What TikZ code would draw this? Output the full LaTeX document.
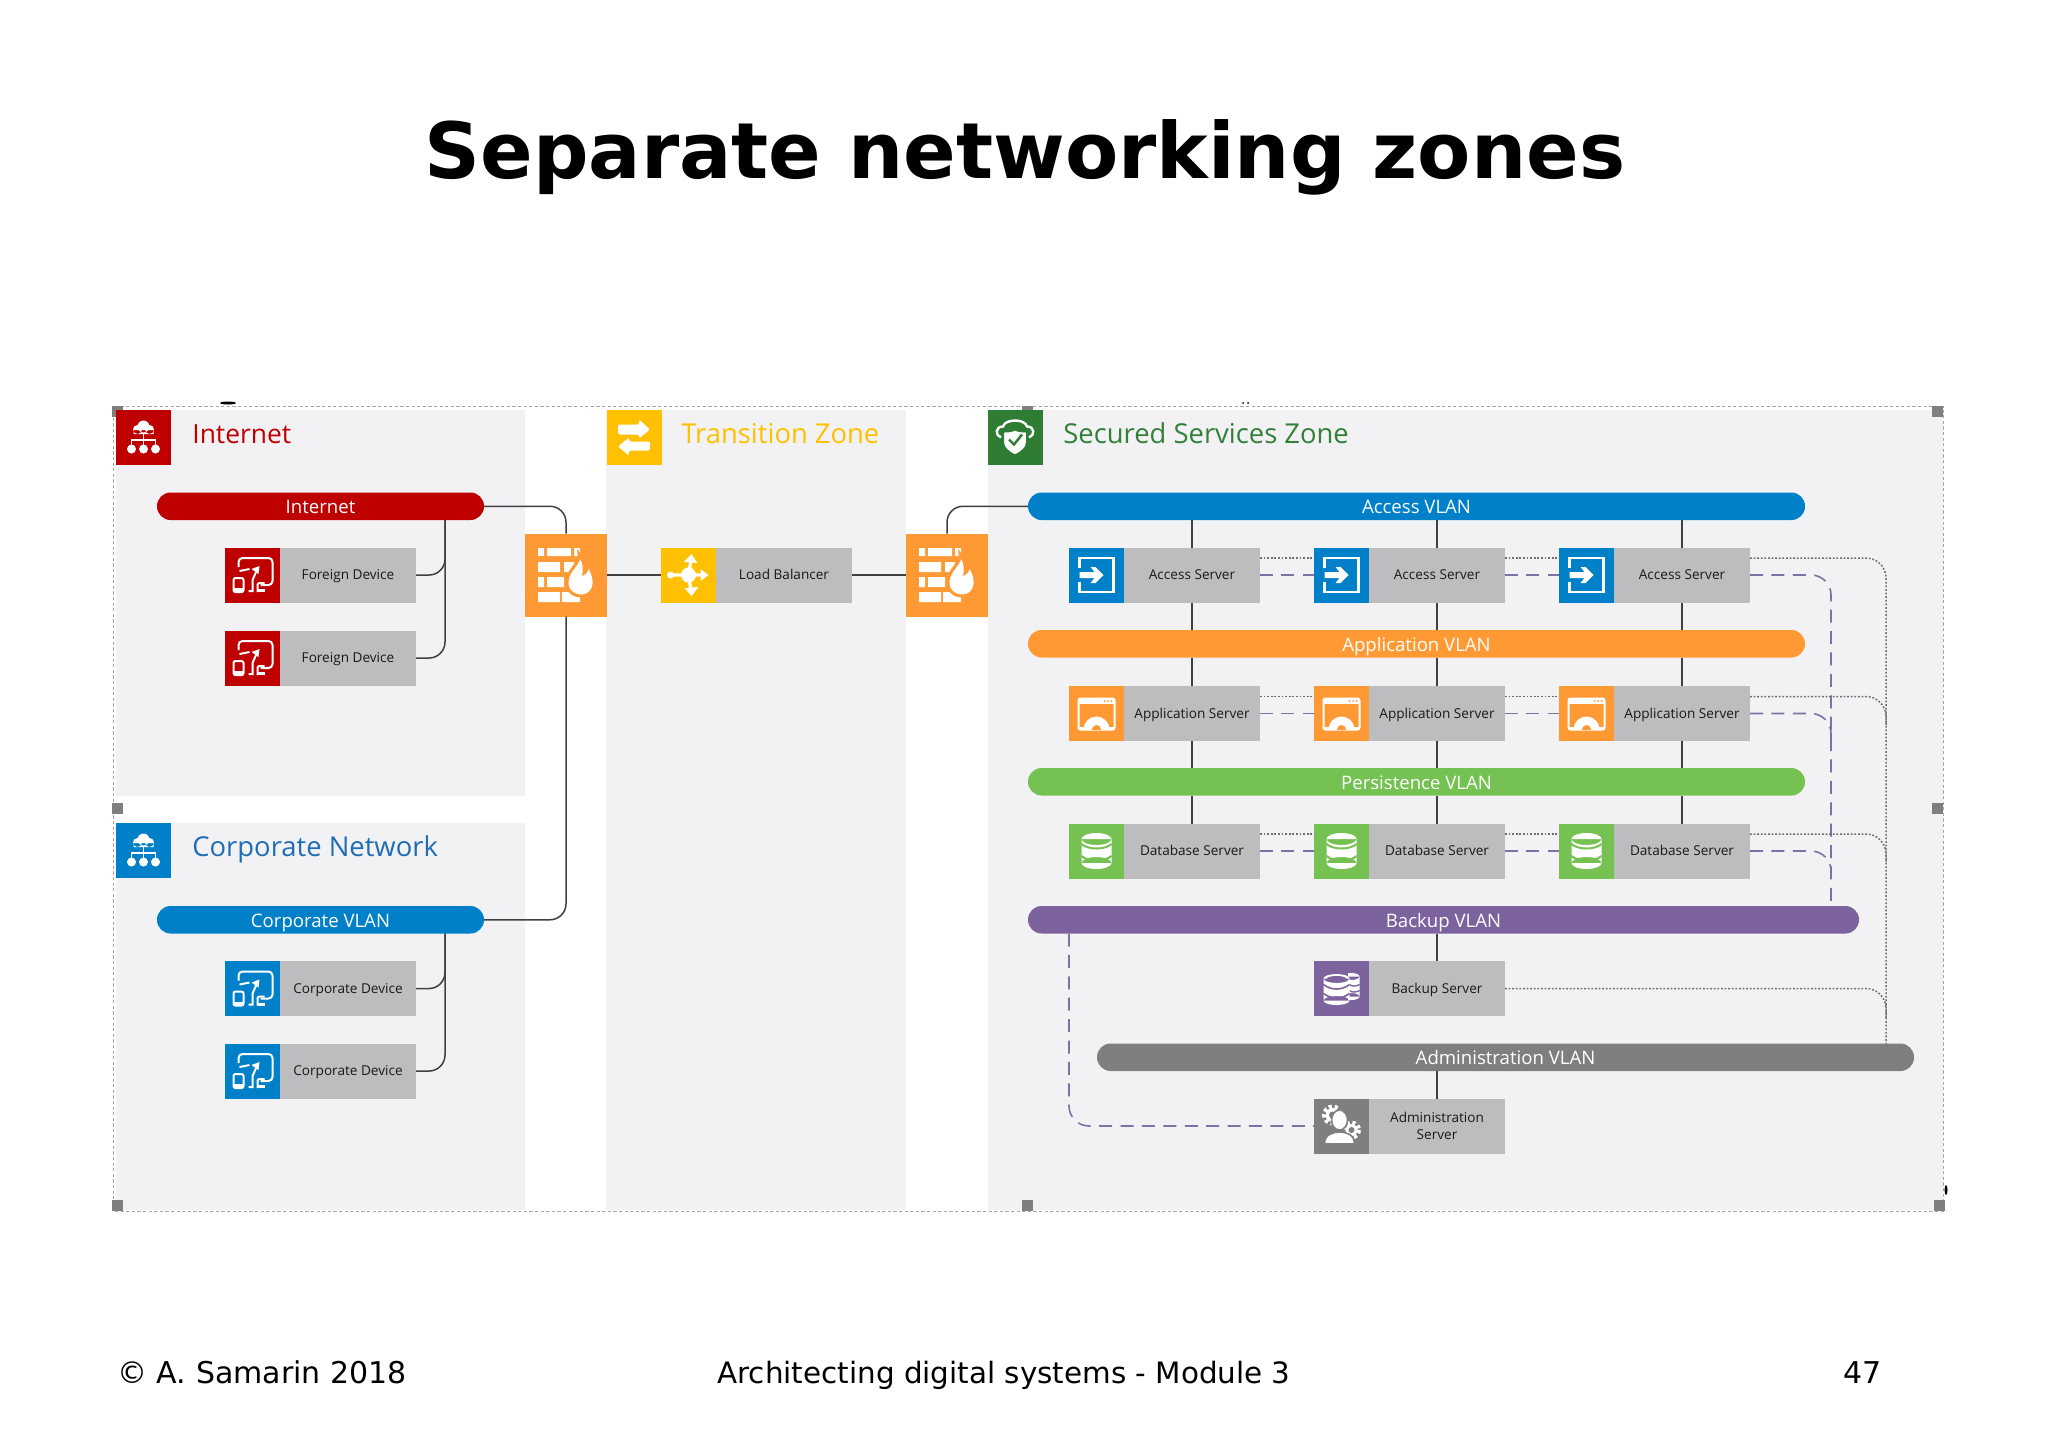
\documentclass[tikz,border=0pt]{standalone}
\usepackage{fontspec}
\setmainfont{Open Sans}
\newfontfamily\slidefont{DejaVu Sans}
\definecolor{cRed}{HTML}{BF0000}
\definecolor{cBlue}{HTML}{0080C8}
\definecolor{cYellow}{HTML}{FFC000}
\definecolor{cDkGreen}{HTML}{2E7D32}
\definecolor{cOrange}{HTML}{FF9933}
\definecolor{cLime}{HTML}{75C152}
\definecolor{cPurple}{HTML}{7D639E}
\definecolor{cGrey}{HTML}{7F7F7F}
\definecolor{cBox}{HTML}{BDBDBF}
\definecolor{cPanel}{HTML}{F2F2F4}
\definecolor{cDash}{HTML}{7D72A3}
\definecolor{cDot}{HTML}{6E6E6E}
\definecolor{cLine}{HTML}{404040}
\definecolor{cCorp}{HTML}{1F6DB5}
\definecolor{cSec}{HTML}{358039}
\tikzset{
  panel/.style={rectangle,fill=cPanel,inner sep=0pt,outer sep=0pt},
  iconbox/.style={rectangle,inner sep=0pt,outer sep=0pt,minimum width=27.5pt,minimum height=27.5pt},
  firebox/.style={rectangle,fill=cOrange,inner sep=0pt,outer sep=0pt,minimum width=41pt,minimum height=41.5pt},
  graybox/.style={rectangle,fill=cBox,inner sep=0pt,outer sep=0pt,minimum width=68pt,minimum height=27.5pt,
     font=\fontsize{6.8}{8.5}\selectfont,text=black!90,align=center,text height=4.9pt,text depth=0pt},
  pill/.style={rectangle,rounded corners=6.8pt,inner sep=0pt,outer sep=0pt,minimum height=13.75pt,text=white,
     font=\fontsize{9.3}{10}\selectfont,text height=7.6pt,text depth=0pt},
  header/.style={anchor=base west,inner sep=0pt,font=\fontsize{13.7}{15}\selectfont},
  slidetext/.style={inner sep=0pt,font=\slidefont\fontsize{15}{16}\selectfont,anchor=base west},
  conn/.style={draw=cLine,line width=0.75pt,rounded corners=8pt},
  dashconn/.style={draw=cDash,line width=0.8pt,dash pattern=on 6.5pt off 4.2pt,rounded corners=10pt},
  dotconn/.style={draw=cDot,line width=0.75pt,dash pattern=on 0.9pt off 0.9pt,rounded corners=10pt},
  netpic/.pic={
    \fill[white] (0,-11) circle (6) (-6,-8) circle (4.5) (6,-8) circle (4.5) (-10,-7.5) rectangle (10,-3.5);
    \draw[white,line width=.65pt] (0,-4)--(0,8) (-12,8)--(-12,2.5)--(12,2.5)--(12,8);
    \fill[white] (-12,11.5) circle (4.5) (0,11.5) circle (4.5) (12,11.5) circle (4.5);
  },
  devpic/.pic={
    \draw[white,line width=1pt,rounded corners=2pt] (-14,-8)--(-14,-17)--(20,-17)--(20,10)--(8,10);
    \draw[white,line width=1pt] (-13,-4)--(-3,-6);
    \draw[white,line width=1pt,rounded corners=1pt] (-19,3) rectangle (-9,17);
    \fill[white] (-19,13) rectangle (-9,17);
    \draw[white,line width=1pt] (-4,16)--(0,16)--(0,5)--(4,-4);
    \fill[white] (7,-9)--(-1,-6)--(6,-1)--cycle;
    \draw[white,line width=1pt,rounded corners=1pt] (5,17)--(5,8)--(12,8);
    \fill[white] (5,14) rectangle (12,17);
  },
  firepic/.pic={
    \fill[white] (-28,-27) rectangle (-22,-19) (-19,-27) rectangle (5,-19) (8,-27) rectangle (14,-19);
    \fill[white] (-28,-13) rectangle (-6,-3) (-2,-13) rectangle (8,-3);
    \fill[white] (-28,2) rectangle (-22,12) (-19,2) rectangle (-2,12);
    \fill[white] (-28,17) rectangle (-6,27) (-4,17) rectangle (14,27);
    \path[fill=white,draw=cOrange,line width=1.5pt] (13,-21) .. controls (15,-12) and (2,-6) .. (1,6)
      .. controls (0,15) and (7,21) .. (15,21) .. controls (24,21) and (29,14) .. (28,5)
      .. controls (27,-3) and (24,-7) .. (21,-12) .. controls (22,-6) and (20,-3) .. (18,-2)
      .. controls (19,-10) and (17,-16) .. (13,-21) -- cycle;
  },
  swappic/.pic={
    \fill[white,rounded corners=1pt] (-16,-13)--(5,-13)--(5,-18)--(16,-8)--(5,1)--(5,-3)--(-16,-3)--cycle;
    \fill[white,rounded corners=1pt] (16,4)--(-5,4)--(-5,0)--(-16,9)--(-5,18)--(-5,13)--(16,13)--cycle;
  },
  lbpic/.pic={
    \draw[white,line width=1.6pt] (-17,0)--(17,0) (0,0)--(3,-17) (0,0)--(3,18);
    \fill[white] (0,0) circle (7.5) (-18,0) circle (3.5);
    \fill[white] (20,0)--(12,-6)--(12,6)--cycle;
    \fill[white] (3,-21)--(-5,-13)--(9,-12)--cycle;
    \fill[white] (3,21)--(-4,13)--(10,12)--cycle;
  },
  shieldpic/.pic={
    \draw[white,line width=1.2pt] (-14,0) .. controls (-20,-2) and (-20,-11) .. (-12,-11)
       .. controls (-10,-19) and (10,-19) .. (12,-11) .. controls (20,-11) and (20,-2) .. (14,0);
    \path[fill=white,draw=cDkGreen,line width=1pt] (0,-8) .. controls (4,-6) and (8,-6) .. (12,-6)
       -- (12,5) .. controls (12,11) and (6,15) .. (0,18) .. controls (-6,15) and (-12,11) .. (-12,5)
       -- (-12,-6) .. controls (-8,-6) and (-4,-6) .. (0,-8) -- cycle;
    \draw[cDkGreen,line width=1.2pt] (-6,2)--(-1,7)--(7,-3);
  },
  accesspic/.pic={
    \draw[white,line width=1.4pt] (-17,-7)--(-17,-17)--(17,-17)--(17,17)--(-17,17)--(-17,7);
    \fill[white] (-17,-3)--(-2,-3)--(-6,-8)--(-1,-8)--(7,0)--(-1,8)--(-6,8)--(-2,3)--(-17,3)--cycle;
  },
  apppic/.pic={
    \draw[white,line width=1pt,rounded corners=1pt] (-18,-15) rectangle (18,16);
    \fill[white] (-18,-15) rectangle (18,-10);
    \foreach \d in {8,11.5,15} {\fill[cOrange] (\d,-12.5) circle (1);}
    \begin{scope}
      \clip (-18,-4) rectangle (18,16);
      \fill[white] (0,16) circle (13);
      \foreach \a in {0,30,60,90,120,150,180} {\draw[white,line width=2.4pt] (0,16)--++(\a:17);}
      \fill[cOrange] (0,16) circle (4.5);
    \end{scope}
  },
  dbpic/.pic={
    \fill[white] (0,-12) ellipse (15 and 6) (-15,-12) rectangle (15,12) (0,12) ellipse (15 and 6);
    \draw[cLime,line width=1pt] (-15,-7) .. controls (-8,-1) and (8,-1) .. (15,-7);
    \draw[cLime,line width=1pt] (-15,5) .. controls (-8,11) and (8,11) .. (15,5);
  },
  backpic/.pic={
    \fill[white] (10,-12) ellipse (8 and 3.5) (2,-12) rectangle (18,8) (10,8) ellipse (8 and 3.5);
    \draw[cPurple,line width=.7pt] (8,-4) .. controls (10,-2) and (15,-2) .. (18,-4);
    \draw[cPurple,line width=.7pt] (8,2) .. controls (10,4) and (15,4) .. (18,2);
    \fill[cPurple] (-21,-18) rectangle (6,22);
    \fill[white] (-5,-10) ellipse (13 and 4.5) (-18,-10) rectangle (8,12) (-5,12) ellipse (13 and 4.5);
    \fill[cPurple] (-5,-10) ellipse (9.5 and 2.5);
    \draw[cPurple,line width=.8pt] (-18,-4) .. controls (-10,2) and (0,2) .. (8,-4);
    \draw[cPurple,line width=.8pt] (-18,5) .. controls (-10,11) and (0,11) .. (8,5);
  },
  adminpic/.pic={
    \fill[white] (-9,-11) circle (7);
    \draw[white,line width=2pt,dash pattern=on 1.6pt off 1.4pt] (-9,-11) circle (8.5);
    \fill[cGrey] (-9,-11) circle (3.5);
    \fill[white] (10,4) circle (6);
    \draw[white,line width=2pt,dash pattern=on 1.6pt off 1.4pt] (10,4) circle (7.5);
    \fill[cGrey] (10,4) circle (3);
    \path[fill=white,draw=cGrey,line width=.8pt] (-2,-6) ellipse (8 and 10);
    \path[fill=white,draw=cGrey,line width=.8pt] (-17,18) .. controls (-17,8) and (-8,6) .. (-2,6)
       .. controls (4,6) and (13,8) .. (13,18) -- cycle;
  }
}
\newcommand{\srvbox}[7][]{% extra style, name, left x, top y, colour, pic, text
  \node[iconbox,fill=#5] (#2-i) at ({#3+27.5},{#4+27.5}) {};
  \pic at (#2-i.center) {#6};
  \node[graybox,#1] (#2) at ({#3+123},{#4+27.5}) {#7};
  \coordinate (#2-dl) at (#3,{#4+10.5});
  \coordinate (#2-dr) at ({#3+191},{#4+10.5});
}
\newcommand{\rectnode}[6]{% style, name, x1, y1, x2, y2
  \node[#1,minimum width={(#5-#3)*0.5pt},minimum height={(#6-#4)*0.5pt}] (#2) at ({(#3+#5)/2},{(#4+#6)/2}) {};
}
\newcommand{\pillnode}[7]{% name, colour, x1, y1, x2, y2, text
  \node[pill,fill=#2,minimum width={(#5-#3)*0.5pt}] (#1) at ({(#3+#5)/2},{(#4+#6)/2}) {#7};
}
\begin{document}
\begin{tikzpicture}[x=0.5pt,y=-0.5pt]
\useasboundingbox (0,0) rectangle (2048,1448);
\fill[white] (0,0) rectangle (2048,1448);
% panels
\rectnode{panel}{pInternet}{116}{410}{525}{796}
\rectnode{panel}{pCorp}{116}{823}{525}{1210}
\rectnode{panel}{pTrans}{606}{410}{906}{1210}
\rectnode{panel}{pSec}{988}{410}{1943}{1210}
% frame and handles
\draw[black!35,line width=0.5pt,dash pattern=on 1.6pt off 1.2pt] (113,406.5) rectangle (1943,1211);
\foreach \hx/\hy in {112/406,1022/406,1932/406,112/803,1932/803,112/1200,1022/1200,1934/1200}
  {\fill[cGrey] (\hx,\hy) rectangle ++(11,11);}
\fill[black] (228,403) ellipse (8 and 1.5);
\fill[black] (1243,403) circle (1) (1248,403) circle (1);
\fill[black] (1946,1190) ellipse (1.5 and 5);
% slide text
\node[inner sep=0pt,anchor=base,font=\slidefont\bfseries\fontsize{38.8}{40}\selectfont] (title) at (1025,178) {Separate networking zones};
\node[slidetext] (foot1) at (117,1383) {© A. Samarin 2018};
\node[slidetext,font=\slidefont\fontsize{14.7}{16}\selectfont] (foot2) at (717,1383) {Architecting digital systems - Module 3};
\node[slidetext] (foot3) at (1843,1383) {47};
% headers
\node[iconbox,fill=cRed] (hInternet) at (143.5,437.5) {};
\pic at (hInternet.center) {netpic};
\node[header,text=cRed,font=\fontsize{13.2}{15}\selectfont] (tInternet) at (192,443.5) {Internet};
\node[iconbox,fill=cBlue] (hCorp) at (143.5,850.5) {};
\pic at (hCorp.center) {netpic};
\node[header,text=cCorp] (tCorp) at (192,856.5) {Corporate Network};
\node[iconbox,fill=cYellow] (hTrans) at (634,437.5) {};
\pic at (hTrans.center) {swappic};
\node[header,text=cYellow] (tTrans) at (681,443.5) {Transition Zone};
\node[iconbox,fill=cDkGreen] (hSec) at (1015,437.5) {};
\pic at (hSec.center) {shieldpic};
\node[header,text=cSec] (tSec) at (1063,443.5) {Secured Services Zone};
% pills
\pillnode{ipill}{cRed}{157}{492.5}{484}{520}{Internet}
\pillnode{cpill}{cBlue}{157}{906}{484}{933.5}{Corporate VLAN}
\pillnode{apill}{cBlue}{1028}{492.5}{1805}{520}{Access VLAN}
\pillnode{ppill}{cOrange}{1028}{630}{1805}{657.5}{Application VLAN}
\pillnode{dpill}{cLime}{1028}{768}{1805}{795.5}{Persistence VLAN}
\pillnode{bpill}{cPurple}{1028}{906}{1859}{933.5}{Backup VLAN}
\pillnode{mpill}{cGrey}{1097}{1043.5}{1914}{1071}{Administration VLAN}
% devices
\srvbox{f1}{225}{547.5}{cRed}{devpic}{Foreign Device}
\srvbox{f2}{225}{630.5}{cRed}{devpic}{Foreign Device}
\srvbox{k1}{225}{961}{cBlue}{devpic}{Corporate Device}
\srvbox{k2}{225}{1043.5}{cBlue}{devpic}{Corporate Device}
\srvbox{lb}{661}{547.5}{cYellow}{lbpic}{Load Balancer}
% firewalls
\node[firebox] (fw1) at (566,575) {};
\pic at (fw1.center) {firepic};
\node[firebox] (fw2) at (947,575) {};
\pic at (fw2.center) {firepic};
% servers
\srvbox{a1}{1069}{547.5}{cBlue}{accesspic}{Access Server}
\srvbox{a2}{1314}{547.5}{cBlue}{accesspic}{Access Server}
\srvbox{a3}{1559}{547.5}{cBlue}{accesspic}{Access Server}
\srvbox{s1}{1069}{686}{cOrange}{apppic}{Application Server}
\srvbox{s2}{1314}{686}{cOrange}{apppic}{Application Server}
\srvbox{s3}{1559}{686}{cOrange}{apppic}{Application Server}
\srvbox{d1}{1069}{823.5}{cLime}{dbpic}{Database Server}
\srvbox{d2}{1314}{823.5}{cLime}{dbpic}{Database Server}
\srvbox{d3}{1559}{823.5}{cLime}{dbpic}{Database Server}
\srvbox{bk}{1314}{961}{cPurple}{backpic}{Backup Server}
\srvbox[text height={},text depth={}]{ad}{1314}{1098.5}{cGrey}{adminpic}{Administration\\Server}
% bus coordinates
\coordinate (itrunk) at (445,520);
\coordinate (ctrunk) at (445,933.5);
\coordinate (dashbus) at (1831,906);
\coordinate (dashs3) at (1831,738);
\coordinate (dashd3) at (1831,875);
\coordinate (dotbus) at (1886,1043.5);
\coordinate (dots3) at (1886,725);
\coordinate (dotd3) at (1886,862);
\coordinate (dotbk) at (1886,1018);
\coordinate (leftbus) at (1069,933.5);
% solid connectors
\draw[conn] (ipill.east) -| (fw1.north);
\draw[conn] (fw1.south) |- (cpill.east);
\draw[conn] (fw1.east) -- (lb-i.west);
\draw[conn] (lb.east) -- (fw2.west);
\draw[conn] (apill.west) -| (fw2.north);
\draw[conn] (f1.east) -| (itrunk);
\draw[conn] (f2.east) -| (itrunk);
\draw[conn] (k1.east) -| (ctrunk);
\draw[conn] (k2.east) -| (ctrunk);
\foreach \n in {a1,a2,a3} {
  \draw[conn] (\n.north) -- (\n.north |- apill.south);
  \draw[conn] (\n.south) -- (\n.south |- ppill.north);
}
\foreach \n in {s1,s2,s3} {
  \draw[conn] (\n.north) -- (\n.north |- ppill.south);
  \draw[conn] (\n.south) -- (\n.south |- dpill.north);
}
\foreach \n in {d1,d2,d3} {
  \draw[conn] (\n.north) -- (\n.north |- dpill.south);
}
\draw[conn] (bk.north) -- (bk.north |- bpill.south);
\draw[conn] (ad.north) -- (ad.north |- mpill.south);
% dashed connectors
\foreach \p/\q in {a1/a2,a2/a3,s1/s2,s2/s3,d1/d2,d2/d3} {
  \draw[dashconn] (\p.east) -- (\q-i.west);
  \draw[dotconn] (\p-dr) -- (\q-dl);
}
\draw[dashconn] (a3.east) -| (dashbus);
\draw[dashconn] (s3.east) -| (dashs3);
\draw[dashconn] (d3.east) -| (dashd3);
\draw[dotconn] (a3-dr) -| (dotbus);
\draw[dotconn] (s3-dr) -| (dots3);
\draw[dotconn] (d3-dr) -| (dotd3);
\draw[dotconn] (bk.east) -| (dotbk);
\draw[dashconn] (leftbus) |- (ad-i.west);
\end{tikzpicture}
\end{document}
